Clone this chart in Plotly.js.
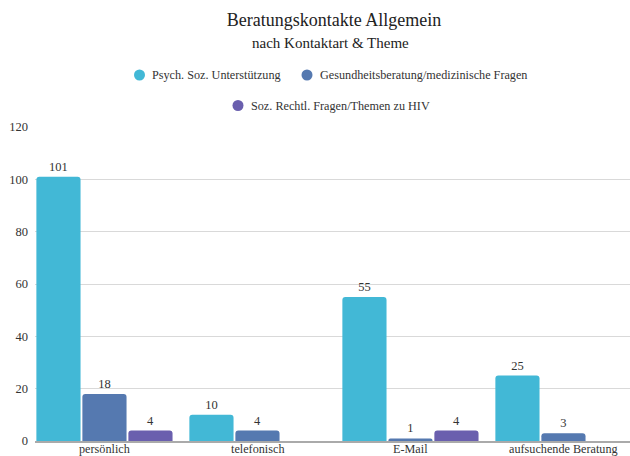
<!DOCTYPE html>
<html>
<head>
<meta charset="utf-8">
<script src="https://cdn.plot.ly/plotly-3.0.1.min.js"></script>
<style>html,body{margin:0;padding:0;background:#fff}#chart{width:630px;height:456px}</style>
</head>
<body>
<div id="chart"></div>
<script>
const categories = ["persönlich", "telefonisch", "E-Mail", "aufsuchende Beratung"];
const seriesNames = ["Psych. Soz. Unterstützung", "Gesundheitsberatung/medizinische Fragen", "Soz. Rechtl. Fragen/Themen zu HIV"];
const psychSoz = [101, 10, 55, 25];
const gesundheit = [18, 4, 1, 3];
const sozRechtl = [4, null, 4, null];
const colors = ["#42b8d6", "#5579b0", "#6a5fae"];
const yTicks = [0, 20, 40, 60, 80, 100, 120];

const FONT = "Liberation Serif";
const values = [psychSoz, gesundheit, sozRechtl];
const traces = values.map((v, i) => ({
  type: "bar", x: categories, y: v, name: seriesNames[i],
  marker: {color: colors[i]},
  text: v.map(d => d == null ? "" : String(d)),
  textposition: "outside", cliponaxis: false,
  textfont: {family: FONT, size: 12.5, color: "#333"},
  showlegend: false, hoverinfo: "none"
}));

// custom legend (circle + label), positions in pixels converted to paper coords
const W = 630, H = 456, mL = 35, mR = 0, mT = 127, mB = 15;
const pw = W - mL - mR, ph = H - mT - mB;
const px = x => (x - mL) / pw;
const py = y => (H - mB - y) / ph;
const legendPos = [[139.5, 75], [307, 75], [238, 105.5]];
const shapes = [], annotations = [];
seriesNames.forEach((n, i) => {
  const [cx, cy] = legendPos[i];
  shapes.push({type: "circle", xref: "paper", yref: "paper",
    x0: px(cx - 5.5), x1: px(cx + 5.5), y0: py(cy + 5.5), y1: py(cy - 5.5),
    fillcolor: colors[i], line: {width: 0}});
  annotations.push({text: n, xref: "paper", yref: "paper", x: px(cx + 10.5), y: py(cy),
    xanchor: "left", yanchor: "middle", showarrow: false,
    font: {family: FONT, size: 12.2, color: "#333"}});
});
annotations.push({text: "nach Kontaktart & Theme", xref: "paper", yref: "paper",
  x: px(330), y: py(43), xanchor: "center", yanchor: "middle", showarrow: false,
  font: {family: FONT, size: 15, color: "#222"}});
// category labels placed just under the axis
categories.forEach(c => annotations.push({text: c, xref: "x", yref: "paper", x: c, y: py(449),
  xanchor: "center", yanchor: "middle", showarrow: false,
  font: {family: FONT, size: 12.2, color: "#333"}}));

const layout = {
  width: W, height: H,
  margin: {l: mL, r: mR, t: mT, b: mB},
  paper_bgcolor: "#fff", plot_bgcolor: "#fff",
  font: {family: FONT, color: "#333"},
  title: {text: "Beratungskontakte Allgemein", x: 334 / W, xanchor: "center", y: 1 - 20 / H, yanchor: "middle",
          font: {family: FONT, size: 18, color: "#222"}},
  barmode: "group", bargap: 0.098, bargroupgap: 0.04, barcornerradius: 3,
  xaxis: {range: [-0.454, 3.435], showgrid: false, showline: true, linecolor: "#aaa", linewidth: 2,
          ticks: "", showticklabels: false, fixedrange: true},
  yaxis: {range: [0, 120], tickvals: yTicks, showgrid: true, gridcolor: "#d9d9d9", gridwidth: 1,
          zeroline: false, ticks: "", ticklabelstandoff: 6, tickfont: {family: FONT, size: 12.5, color: "#333"},
          fixedrange: true},
  shapes: shapes, annotations: annotations,
  showlegend: false
};

Plotly.newPlot("chart", traces, layout, {displayModeBar: false, staticPlot: true});
</script>
</body>
</html>
